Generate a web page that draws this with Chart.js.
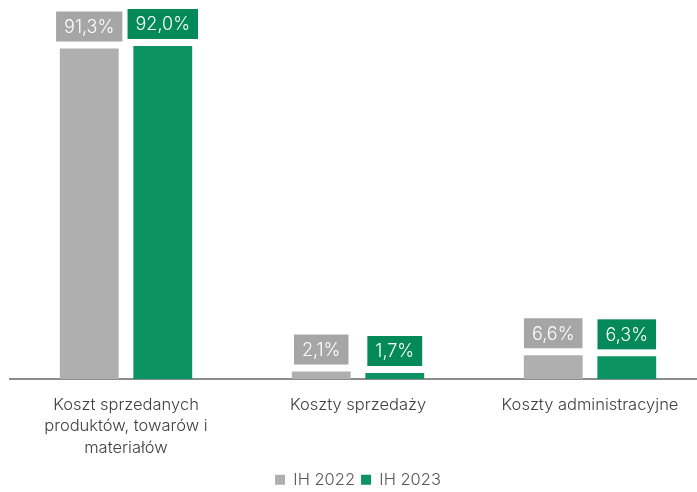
<!DOCTYPE html>
<html>
<head>
<meta charset="utf-8">
<script src="https://cdn.jsdelivr.net/npm/chart.js@4"></script>
<style>
  body { margin: 0; overflow: hidden; background: #fff; }
  #wrap { width: 706px; height: 498px; }
</style>
</head>
<body>
<div id="wrap"><canvas id="costChart"></canvas></div>
<script>
// Cost structure data
const categories = [
  ['Koszt sprzedanych', 'produktów, towarów i', 'materiałów'],
  'Koszty sprzedaży',
  'Koszty administracyjne'
];
const seriesNames = ['IH 2022', 'IH 2023'];
const values2022 = [91.3, 2.1, 6.6];
const values2023 = [92.0, 1.7, 6.3];

const barColors = ['#afafaf', '#0b9462'];
const boxColors = ['#a6a6a6', '#048a5a'];
const fontFamily = 'Inter, "Open Sans", sans-serif';

// boxed value labels above each bar
const boxLabels = {
  id: 'boxLabels',
  afterDatasetsDraw(chart) {
    const ctx = chart.ctx;
    ctx.save();
    ctx.font = '300 18px ' + fontFamily;
    ctx.textAlign = 'center';
    ctx.textBaseline = 'middle';
    chart.data.datasets.forEach((ds, i) => {
      const meta = chart.getDatasetMeta(i);
      meta.data.forEach((bar, j) => {
        const txt = ds.data[j].toFixed(1).replace('.', ',') + '%';
        const w = ctx.measureText(txt).width + 16;
        const h = 30;
        const bottom = bar.y - 7;
        ctx.fillStyle = boxColors[i];
        ctx.fillRect(bar.x - w / 2, bottom - h, w, h);
        ctx.fillStyle = '#ffffff';
        ctx.fillText(txt, bar.x, bottom - h / 2 + 1);
      });
    });
    ctx.restore();
  }
};

const ctxCost = document.getElementById('costChart').getContext('2d');
new Chart(ctxCost, {
  type: 'bar',
  data: {
    labels: categories,
    datasets: [
      { label: seriesNames[0], data: values2022, backgroundColor: barColors[0] },
      { label: seriesNames[1], data: values2023, backgroundColor: barColors[1] }
    ]
  },
  options: {
    responsive: true,
    maintainAspectRatio: false,
    animation: false,
    categoryPercentage: 0.634,
    barPercentage: 0.8,
    layout: { padding: { left: 10, right: 0, top: 17, bottom: 0 } },
    plugins: {
      legend: {
        position: 'bottom',
        labels: {
          boxWidth: 10,
          boxHeight: 10,
          padding: 6,
          color: '#595959',
          font: { family: fontFamily, size: 16.5, weight: '300' }
        }
      },
      tooltip: { enabled: false }
    },
    scales: {
      x: {
        grid: { display: false },
        border: { display: true, color: '#8c8c8c', width: 2 },
        ticks: {
          color: '#404040',
          padding: 7,
          maxRotation: 0,
          font: { family: fontFamily, size: 16.5, weight: '300', lineHeight: 1.3 }
        }
      },
      y: {
        display: false,
        min: 0,
        max: 100
      }
    }
  },
  plugins: [boxLabels]
});
</script>
</body>
</html>
